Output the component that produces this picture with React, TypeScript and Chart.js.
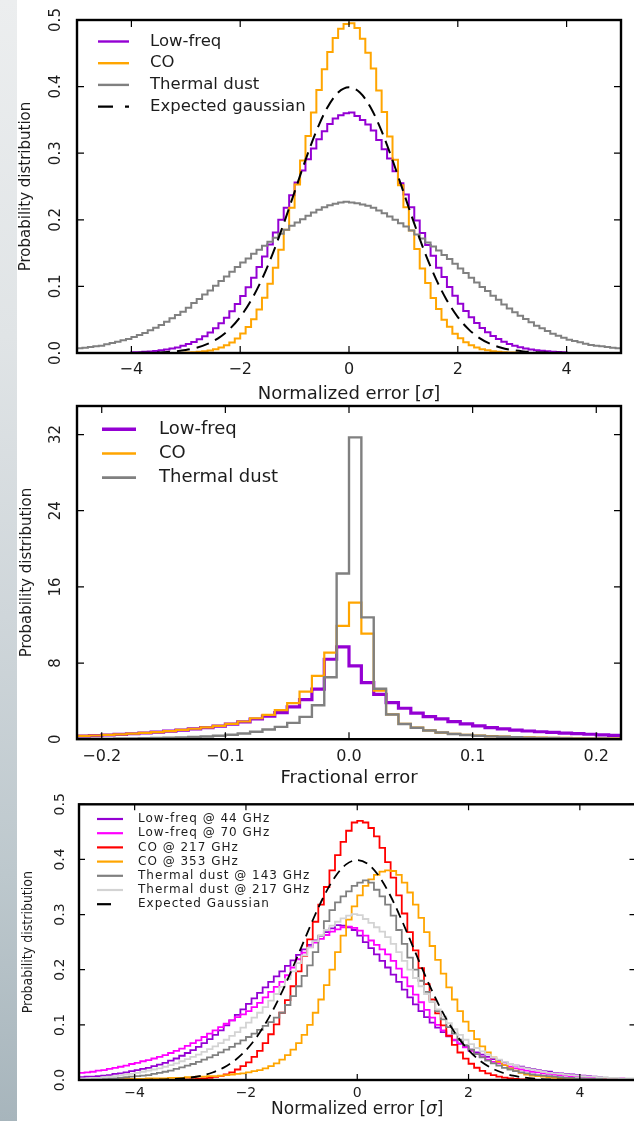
import React, { useEffect, useRef } from 'react';
import { Chart, registerables } from 'chart.js';

Chart.register(...registerables);

const FONT = '"DejaVu Sans", "Liberation Sans", sans-serif';
const FONT_CONDENSED = '"DejaVu Sans Condensed", "DejaVu Sans", sans-serif';
const TEXT_COLOR = '#1c1c1c';

const VIOLET = '#9400d3';
const ORANGE = '#ffa500';
const GREY = '#808080';
const RED = '#ff0000';
const MAGENTA = '#ff00ff';
const LIGHT_GREY = '#d3d3d3';

// ---------------------------------------------------------------------------
// Normalized-error histograms: 100 bins of width 0.1 from -5 to 5
const NORM_BIN_START = -5;
const NORM_BIN_WIDTH = 0.1;

const P1_LOW_FREQ = [
  0, 0, 0, 0, 0, 0, 0, 0, 0, 0,
  0.0010, 0.0013, 0.0018, 0.0023, 0.0031, 0.0040, 0.0052, 0.0066, 0.0084, 0.0107,
  0.0134, 0.0167, 0.0206, 0.0253, 0.0308, 0.0372, 0.0446, 0.0531, 0.0627, 0.0735,
  0.0855, 0.0987, 0.113, 0.129, 0.145, 0.163, 0.181, 0.200, 0.218, 0.237,
  0.256, 0.274, 0.291, 0.307, 0.321, 0.333, 0.344, 0.352, 0.357, 0.360,
  0.361, 0.356, 0.350, 0.343, 0.334, 0.320, 0.306, 0.292, 0.273, 0.255,
  0.238, 0.219, 0.199, 0.180, 0.162, 0.146, 0.128, 0.114, 0.0990, 0.0860,
  0.0740, 0.0630, 0.0535, 0.0450, 0.0375, 0.0310, 0.0255, 0.0210, 0.0170, 0.0137,
  0.0110, 0.0087, 0.0068, 0.0054, 0.0042, 0.0033, 0.0025, 0.0019, 0.0015, 0.0011,
  0, 0, 0, 0, 0, 0, 0, 0, 0, 0,
];

const P1_CO = [
  0, 0, 0, 0, 0, 0, 0, 0, 0, 0,
  0, 0, 0, 0, 0, 0, 0, 0, 0, 0.0005,
  0.0008, 0.0012, 0.0018, 0.0027, 0.0039, 0.0057, 0.0081, 0.0115, 0.0159, 0.0218,
  0.0293, 0.0389, 0.0507, 0.0654, 0.0829, 0.104, 0.128, 0.155, 0.185, 0.218,
  0.253, 0.289, 0.326, 0.361, 0.395, 0.426, 0.452, 0.473, 0.487, 0.494,
  0.495, 0.488, 0.472, 0.451, 0.427, 0.394, 0.362, 0.325, 0.290, 0.252,
  0.219, 0.184, 0.156, 0.127, 0.105, 0.0825, 0.0660, 0.0500, 0.0395, 0.0290,
  0.0220, 0.0160, 0.0117, 0.0082, 0.0058, 0.0040, 0.0028, 0.0019, 0.0013, 0.0009,
  0.0006, 0, 0, 0, 0, 0, 0, 0, 0, 0,
  0, 0, 0, 0, 0, 0, 0, 0, 0, 0,
];

const P1_DUST = [
  0.007, 0.008, 0.009, 0.010, 0.011, 0.013, 0.015, 0.017, 0.019, 0.021,
  0.024, 0.027, 0.030, 0.034, 0.038, 0.042, 0.047, 0.052, 0.057, 0.062,
  0.068, 0.075, 0.081, 0.088, 0.094, 0.101, 0.108, 0.115, 0.122, 0.129,
  0.136, 0.142, 0.149, 0.155, 0.161, 0.167, 0.173, 0.179, 0.185, 0.191,
  0.196, 0.201, 0.206, 0.211, 0.215, 0.219, 0.222, 0.224, 0.226, 0.227,
  0.226, 0.225, 0.223, 0.221, 0.218, 0.214, 0.210, 0.205, 0.200, 0.195,
  0.190, 0.184, 0.178, 0.172, 0.166, 0.160, 0.154, 0.147, 0.141, 0.134,
  0.127, 0.120, 0.113, 0.106, 0.099, 0.093, 0.086, 0.080, 0.073, 0.067,
  0.061, 0.056, 0.051, 0.046, 0.041, 0.037, 0.033, 0.029, 0.026, 0.023,
  0.020, 0.018, 0.016, 0.014, 0.012, 0.011, 0.010, 0.009, 0.008, 0.007,
];

// Expected unit gaussian, sampled every 0.2 from -5 to 5
const GAUSS_X_START = -5;
const GAUSS_X_STEP = 0.2;
const EXPECTED_GAUSSIAN = [
  0.0000, 0.0000, 0.0000, 0.0000, 0.0001, 0.0001, 0.0003, 0.0006, 0.0012, 0.0024,
  0.0044, 0.0079, 0.0136, 0.0224, 0.0355, 0.0540, 0.0790, 0.1109, 0.1497, 0.1942,
  0.2420, 0.2897, 0.3332, 0.3683, 0.3910, 0.3989, 0.3910, 0.3683, 0.3332, 0.2897,
  0.2420, 0.1942, 0.1497, 0.1109, 0.0790, 0.0540, 0.0355, 0.0224, 0.0136, 0.0079,
  0.0044, 0.0024, 0.0012, 0.0006, 0.0003, 0.0001, 0.0001, 0.0000, 0.0000, 0.0000,
  0.0000,
];

// ---------------------------------------------------------------------------
// Fractional-error histograms: 44 bins of width 0.01 from -0.22 to 0.22
const FRAC_BIN_START = -0.22;
const FRAC_BIN_WIDTH = 0.01;

const P2_LOW_FREQ = [
  0.33, 0.38, 0.44, 0.50, 0.57, 0.65, 0.74, 0.84, 0.95, 1.08,
  1.22, 1.38, 1.58, 1.82, 2.12, 2.42, 2.80, 3.40, 4.15, 5.25,
  8.4, 9.7,
  7.7, 5.95, 4.7, 3.85, 3.25, 2.73, 2.38, 2.13, 1.85, 1.61,
  1.40, 1.22, 1.08, 0.96, 0.86, 0.78, 0.71, 0.64, 0.58, 0.52,
  0.46, 0.41,
];

const P2_CO = [
  0.34, 0.39, 0.45, 0.51, 0.58, 0.66, 0.75, 0.85, 0.97, 1.10,
  1.25, 1.40, 1.60, 1.86, 2.20, 2.55, 3.05, 3.78, 5.0, 6.65,
  9.1, 11.9,
  14.35, 11.1, 5.1, 2.6, 1.6, 1.22, 0.92, 0.70, 0.56, 0.46,
  0.38, 0.32, 0.27, 0.23, 0.20, 0.17, 0.15, 0.13, 0.11, 0.10,
  0.09, 0.08,
];

const P2_DUST = [
  0.04, 0.05, 0.06, 0.07, 0.08, 0.10, 0.12, 0.15, 0.18, 0.23,
  0.29, 0.36, 0.46, 0.60, 0.78, 1.02, 1.29, 1.71, 2.34, 3.57,
  6.5, 17.4,
  31.7, 12.8, 5.3, 2.6, 1.6, 1.2, 0.92, 0.70, 0.55, 0.44,
  0.36, 0.30, 0.25, 0.21, 0.17, 0.14, 0.12, 0.10, 0.09, 0.08,
  0.07, 0.06,
];

// ---------------------------------------------------------------------------
// Per-frequency normalized-error histograms (same 0.1 bins from -5 to 5)
const P3_LF44 = [
  0.005, 0.006, 0.006, 0.007, 0.008, 0.009, 0.011, 0.012, 0.014, 0.016,
  0.018, 0.020, 0.022, 0.025, 0.028, 0.031, 0.035, 0.039, 0.044, 0.049,
  0.054, 0.060, 0.067, 0.074, 0.082, 0.090, 0.099, 0.108, 0.118, 0.128,
  0.138, 0.148, 0.158, 0.168, 0.178, 0.188, 0.197, 0.207, 0.217, 0.227,
  0.237, 0.245, 0.253, 0.261, 0.268, 0.275, 0.281, 0.280, 0.277, 0.272,
  0.262, 0.250, 0.239, 0.228, 0.216, 0.204, 0.191, 0.178, 0.164, 0.150,
  0.137, 0.125, 0.114, 0.104, 0.095, 0.087, 0.079, 0.072, 0.066, 0.060,
  0.055, 0.050, 0.046, 0.042, 0.038, 0.035, 0.032, 0.029, 0.026, 0.024,
  0.022, 0.020, 0.018, 0.016, 0.015, 0.013, 0.012, 0.011, 0.010, 0.009,
  0.008, 0.007, 0.006, 0.005, 0.004, 0.003, 0.003, 0.002, 0.002, 0.002,
];

const P3_LF70 = [
  0.013, 0.014, 0.015, 0.017, 0.018, 0.020, 0.022, 0.024, 0.026, 0.029,
  0.031, 0.034, 0.036, 0.039, 0.042, 0.045, 0.049, 0.053, 0.057, 0.062,
  0.067, 0.072, 0.078, 0.084, 0.090, 0.096, 0.102, 0.108, 0.114, 0.119,
  0.125, 0.132, 0.140, 0.150, 0.160, 0.169, 0.178, 0.190, 0.204, 0.219,
  0.231, 0.241, 0.249, 0.256, 0.263, 0.269, 0.273, 0.277, 0.278, 0.276,
  0.271, 0.262, 0.253, 0.245, 0.237, 0.228, 0.216, 0.202, 0.186, 0.170,
  0.155, 0.141, 0.127, 0.113, 0.100, 0.090, 0.081, 0.073, 0.066, 0.059,
  0.053, 0.047, 0.042, 0.037, 0.033, 0.030, 0.027, 0.024, 0.021, 0.019,
  0.017, 0.015, 0.014, 0.012, 0.011, 0.010, 0.009, 0.008, 0.007, 0.007,
  0.006, 0.005, 0.005, 0.004, 0.004, 0.003, 0.003, 0.003, 0.002, 0.002,
];

const P3_CO217 = [
  0, 0, 0, 0, 0, 0, 0, 0, 0, 0,
  0, 0, 0, 0, 0, 0, 0, 0, 0, 0.001,
  0.0015, 0.002, 0.003, 0.004, 0.0055, 0.0075, 0.010, 0.014, 0.019, 0.025,
  0.032, 0.042, 0.053, 0.067, 0.083, 0.101, 0.122, 0.145, 0.170, 0.197,
  0.225, 0.255, 0.287, 0.318, 0.350, 0.380, 0.408, 0.432, 0.452, 0.467,
  0.470, 0.467, 0.457, 0.442, 0.421, 0.395, 0.367, 0.335, 0.302, 0.268,
  0.235, 0.203, 0.174, 0.146, 0.121, 0.0991, 0.0800, 0.0636, 0.0499, 0.0387,
  0.0295, 0.0222, 0.0165, 0.0121, 0.0087, 0.0062, 0.0044, 0.0030, 0.0020, 0.0013,
  0.0009, 0.0006, 0, 0, 0, 0, 0, 0, 0, 0,
  0, 0, 0, 0, 0, 0, 0, 0, 0, 0,
];

const P3_CO353 = [
  0.001, 0.001, 0.001, 0.001, 0.001, 0.001, 0.001, 0.002, 0.002, 0.002,
  0.002, 0.002, 0.003, 0.003, 0.003, 0.003, 0.004, 0.004, 0.004, 0.005,
  0.005, 0.006, 0.006, 0.007, 0.007, 0.008, 0.009, 0.010, 0.011, 0.012,
  0.014, 0.016, 0.018, 0.021, 0.025, 0.030, 0.037, 0.045, 0.055, 0.067,
  0.082, 0.100, 0.122, 0.146, 0.172, 0.200, 0.232, 0.262, 0.291, 0.315,
  0.335, 0.352, 0.364, 0.372, 0.378, 0.380, 0.379, 0.372, 0.358, 0.340,
  0.318, 0.294, 0.268, 0.243, 0.218, 0.193, 0.168, 0.146, 0.125, 0.106,
  0.089, 0.074, 0.061, 0.050, 0.041, 0.033, 0.027, 0.021, 0.017, 0.013,
  0.010, 0.008, 0.007, 0.006, 0.005, 0.004, 0.003, 0.003, 0.002, 0.002,
  0.002, 0.001, 0.001, 0.001, 0.001, 0.001, 0.001, 0.001, 0.001, 0.001,
];

const P3_DUST143 = [
  0.001, 0.001, 0.002, 0.002, 0.002, 0.003, 0.003, 0.004, 0.005, 0.006,
  0.007, 0.008, 0.009, 0.011, 0.013, 0.015, 0.017, 0.020, 0.023, 0.026,
  0.029, 0.033, 0.037, 0.041, 0.045, 0.050, 0.055, 0.060, 0.066, 0.072,
  0.078, 0.084, 0.091, 0.098, 0.105, 0.113, 0.122, 0.136, 0.152, 0.170,
  0.189, 0.208, 0.232, 0.262, 0.288, 0.308, 0.322, 0.333, 0.342, 0.352,
  0.358, 0.362, 0.358, 0.345, 0.333, 0.318, 0.298, 0.272, 0.247, 0.222,
  0.200, 0.180, 0.160, 0.142, 0.125, 0.110, 0.096, 0.084, 0.073, 0.063,
  0.055, 0.047, 0.041, 0.035, 0.030, 0.026, 0.022, 0.019, 0.016, 0.014,
  0.012, 0.010, 0.009, 0.008, 0.007, 0.006, 0.005, 0.004, 0.004, 0.003,
  0.003, 0.002, 0.002, 0.002, 0.001, 0.001, 0.001, 0.001, 0.001, 0.001,
];

const P3_DUST217 = [
  0.003, 0.003, 0.004, 0.004, 0.005, 0.006, 0.007, 0.008, 0.010, 0.011,
  0.013, 0.015, 0.017, 0.019, 0.021, 0.024, 0.027, 0.030, 0.034, 0.038,
  0.042, 0.046, 0.051, 0.056, 0.061, 0.067, 0.073, 0.080, 0.087, 0.095,
  0.104, 0.113, 0.122, 0.132, 0.144, 0.156, 0.169, 0.183, 0.197, 0.212,
  0.226, 0.240, 0.252, 0.262, 0.272, 0.280, 0.287, 0.293, 0.298, 0.301,
  0.299, 0.292, 0.285, 0.277, 0.269, 0.259, 0.247, 0.232, 0.216, 0.200,
  0.185, 0.170, 0.156, 0.142, 0.128, 0.115, 0.103, 0.092, 0.082, 0.073,
  0.065, 0.058, 0.052, 0.046, 0.041, 0.037, 0.033, 0.029, 0.026, 0.023,
  0.021, 0.019, 0.017, 0.015, 0.013, 0.012, 0.011, 0.010, 0.009, 0.008,
  0.007, 0.006, 0.006, 0.005, 0.005, 0.004, 0.004, 0.003, 0.003, 0.003,
];

// ---------------------------------------------------------------------------
// Axis ticks and their labels
const NORM_X_TICKS = [-4, -2, 0, 2, 4];
const NORM_X_LABELS = ['\u22124', '\u22122', '0', '2', '4'];
const PROB_Y_TICKS = [0, 0.1, 0.2, 0.3, 0.4, 0.5];
const PROB_Y_LABELS = ['0.0', '0.1', '0.2', '0.3', '0.4', '0.5'];
const FRAC_X_TICKS = [-0.2, -0.1, 0, 0.1, 0.2];
const FRAC_X_LABELS = ['\u22120.2', '\u22120.1', '0.0', '0.1', '0.2'];
const FRAC_Y_TICKS = [0, 8, 16, 24, 32];
const FRAC_Y_LABELS = ['0', '8', '16', '24', '32'];

// ---------------------------------------------------------------------------
type Pt = { x: number; y: number };

// Outline of a step histogram: each value holds from its bin's left edge to the next edge
function histogramOutline(start: number, width: number, values: number[]): Pt[] {
  const n = values.length;
  const pts: Pt[] = [{ x: start, y: 0 }];
  values.forEach((v, i) => pts.push({ x: start + i * width, y: v }));
  pts.push({ x: start + n * width, y: values[n - 1] });
  pts.push({ x: start + n * width, y: 0 });
  return pts;
}

function sampledCurve(start: number, step: number, values: number[]): Pt[] {
  return values.map((v, i) => ({ x: start + i * step, y: v }));
}

type Series = {
  label: string;
  color: string;
  width: number;
  points: Pt[];
  dash?: number[];
  legendDash?: number[];
  smooth?: boolean;
};

type TextPart = { text: string; font: string };

type PanelSpec = {
  top: number;
  width: number;
  height: number;
  area: { left: number; top: number; right: number; bottom: number };
  xMin: number;
  xMax: number;
  yMax: number;
  xTicks: number[];
  xLabels: string[];
  yTicks: number[];
  yLabels: string[];
  xTickFont: string;
  yTickFont: string;
  xLabelY: number;
  yLabelX: number;
  tickLen: number;
  xTitle: TextPart[];
  xTitleY: number;
  yTitle: string;
  yTitleFont: string;
  yTitleX: number;
  legend: {
    x0: number;
    x1: number;
    textX: number;
    y0: number;
    dy: number;
    font: string;
    spacing: number;
  };
  series: Series[];
};

const normTitle = (size: number): TextPart[] => [
  { text: 'Normalized error [', font: `${size}px ${FONT}` },
  { text: '\u03c3', font: `italic ${size}px ${FONT}` },
  { text: ']', font: `${size}px ${FONT}` },
];

const PANEL_TOP: PanelSpec = {
  top: 0,
  width: 634,
  height: 405,
  area: { left: 77, top: 20, right: 621, bottom: 353 },
  xMin: -5,
  xMax: 5,
  yMax: 0.5,
  xTicks: NORM_X_TICKS,
  xLabels: NORM_X_LABELS,
  yTicks: PROB_Y_TICKS,
  yLabels: PROB_Y_LABELS,
  xTickFont: `16px ${FONT}`,
  yTickFont: `15px ${FONT}`,
  xLabelY: 370,
  yLabelX: 56,
  tickLen: 7,
  xTitle: normTitle(18),
  xTitleY: 394,
  yTitle: 'Probability distribution',
  yTitleFont: `15px ${FONT}`,
  yTitleX: 26,
  legend: { x0: 98, x1: 129, textX: 150, y0: 41.5, dy: 21.7, font: `16.5px ${FONT}`, spacing: 0 },
  series: [
    { label: 'Low-freq', color: VIOLET, width: 2, points: histogramOutline(NORM_BIN_START, NORM_BIN_WIDTH, P1_LOW_FREQ) },
    { label: 'CO', color: ORANGE, width: 2, points: histogramOutline(NORM_BIN_START, NORM_BIN_WIDTH, P1_CO) },
    { label: 'Thermal dust', color: GREY, width: 2, points: histogramOutline(NORM_BIN_START, NORM_BIN_WIDTH, P1_DUST) },
    {
      label: 'Expected gaussian',
      color: '#000000',
      width: 2,
      points: sampledCurve(GAUSS_X_START, GAUSS_X_STEP, EXPECTED_GAUSSIAN),
      dash: [13, 7],
      legendDash: [15, 12],
      smooth: true,
    },
  ],
};

const PANEL_MIDDLE: PanelSpec = {
  top: 400,
  width: 634,
  height: 390,
  area: { left: 77, top: 6, right: 621, bottom: 339.2 },
  xMin: -0.22,
  xMax: 0.22,
  yMax: 35,
  xTicks: FRAC_X_TICKS,
  xLabels: FRAC_X_LABELS,
  yTicks: FRAC_Y_TICKS,
  yLabels: FRAC_Y_LABELS,
  xTickFont: `16px ${FONT}`,
  yTickFont: `15px ${FONT}`,
  xLabelY: 357,
  yLabelX: 56,
  tickLen: 7,
  xTitle: [{ text: 'Fractional error', font: `18px ${FONT}` }],
  xTitleY: 378,
  yTitle: 'Probability distribution',
  yTitleFont: `15px ${FONT}`,
  yTitleX: 27,
  legend: { x0: 102, x1: 136, textX: 159, y0: 29.3, dy: 24.2, font: `18px ${FONT}`, spacing: 0 },
  series: [
    { label: 'Low-freq', color: VIOLET, width: 3.2, points: histogramOutline(FRAC_BIN_START, FRAC_BIN_WIDTH, P2_LOW_FREQ) },
    { label: 'CO', color: ORANGE, width: 2.2, points: histogramOutline(FRAC_BIN_START, FRAC_BIN_WIDTH, P2_CO) },
    { label: 'Thermal dust', color: GREY, width: 2.4, points: histogramOutline(FRAC_BIN_START, FRAC_BIN_WIDTH, P2_DUST) },
  ],
};

const PANEL_BOTTOM: PanelSpec = {
  top: 785,
  width: 700,
  height: 336,
  area: { left: 79, top: 19.3, right: 635.5, bottom: 295 },
  xMin: -5,
  xMax: 5,
  yMax: 0.5,
  xTicks: NORM_X_TICKS,
  xLabels: NORM_X_LABELS,
  yTicks: PROB_Y_TICKS,
  yLabels: PROB_Y_LABELS,
  xTickFont: `14px ${FONT}`,
  yTickFont: `14px ${FONT}`,
  xLabelY: 308,
  yLabelX: 60,
  tickLen: 6,
  xTitle: normTitle(17),
  xTitleY: 325,
  yTitle: 'Probability distribution',
  yTitleFont: `14px ${FONT_CONDENSED}`,
  yTitleX: 28,
  legend: { x0: 97, x1: 123, textX: 138, y0: 34, dy: 14.2, font: `12px ${FONT}`, spacing: 1 },
  series: [
    { label: 'Low-freq @ 44 GHz', color: VIOLET, width: 1.8, points: histogramOutline(NORM_BIN_START, NORM_BIN_WIDTH, P3_LF44) },
    { label: 'Low-freq @ 70 GHz', color: MAGENTA, width: 1.8, points: histogramOutline(NORM_BIN_START, NORM_BIN_WIDTH, P3_LF70) },
    { label: 'CO @ 217 GHz', color: RED, width: 1.8, points: histogramOutline(NORM_BIN_START, NORM_BIN_WIDTH, P3_CO217) },
    { label: 'CO @ 353 GHz', color: ORANGE, width: 1.8, points: histogramOutline(NORM_BIN_START, NORM_BIN_WIDTH, P3_CO353) },
    { label: 'Thermal dust @ 143 GHz', color: GREY, width: 1.8, points: histogramOutline(NORM_BIN_START, NORM_BIN_WIDTH, P3_DUST143) },
    { label: 'Thermal dust @ 217 GHz', color: LIGHT_GREY, width: 1.8, points: histogramOutline(NORM_BIN_START, NORM_BIN_WIDTH, P3_DUST217) },
    {
      label: 'Expected Gaussian',
      color: '#000000',
      width: 1.8,
      points: sampledCurve(GAUSS_X_START, GAUSS_X_STEP, EXPECTED_GAUSSIAN),
      dash: [10, 6],
      legendDash: [14, 20],
      smooth: true,
    },
  ],
};

function drawParts(ctx: CanvasRenderingContext2D, parts: TextPart[], cx: number, y: number) {
  let total = 0;
  const widths = parts.map((p) => {
    ctx.font = p.font;
    const w = ctx.measureText(p.text).width;
    total += w;
    return w;
  });
  let x = cx - total / 2;
  ctx.textAlign = 'left';
  parts.forEach((p, i) => {
    ctx.font = p.font;
    ctx.fillText(p.text, x, y);
    x += widths[i];
  });
}

function makeAxesPlugin(spec: PanelSpec) {
  return {
    id: 'paperAxes',
    afterDatasetsDraw(chart: Chart) {
      const ctx = chart.ctx;
      const { left, top, right, bottom } = chart.chartArea;
      const xs = chart.scales.x;
      const ys = chart.scales.y;
      ctx.save();

      // frame
      ctx.setLineDash([]);
      ctx.strokeStyle = '#000000';
      ctx.lineWidth = 2.4;
      ctx.strokeRect(left, top, right - left, bottom - top);

      // inward ticks on all four sides
      ctx.lineWidth = 1.2;
      ctx.beginPath();
      spec.xTicks.forEach((v) => {
        const px = xs.getPixelForValue(v);
        ctx.moveTo(px, bottom);
        ctx.lineTo(px, bottom - spec.tickLen);
        ctx.moveTo(px, top);
        ctx.lineTo(px, top + spec.tickLen);
      });
      spec.yTicks.forEach((v) => {
        const py = ys.getPixelForValue(v);
        ctx.moveTo(left, py);
        ctx.lineTo(left + spec.tickLen, py);
        ctx.moveTo(right, py);
        ctx.lineTo(right - spec.tickLen, py);
      });
      ctx.stroke();

      // tick labels
      ctx.fillStyle = TEXT_COLOR;
      ctx.textBaseline = 'middle';
      ctx.textAlign = 'center';
      ctx.font = spec.xTickFont;
      spec.xTicks.forEach((v, i) => {
        ctx.fillText(spec.xLabels[i], xs.getPixelForValue(v), spec.xLabelY);
      });
      ctx.font = spec.yTickFont;
      spec.yTicks.forEach((v, i) => {
        ctx.save();
        ctx.translate(spec.yLabelX, ys.getPixelForValue(v));
        ctx.rotate(-Math.PI / 2);
        ctx.fillText(spec.yLabels[i], 0, 0);
        ctx.restore();
      });

      // axis titles
      drawParts(ctx, spec.xTitle, (left + right) / 2, spec.xTitleY);
      ctx.save();
      ctx.textAlign = 'center';
      ctx.font = spec.yTitleFont;
      ctx.translate(spec.yTitleX, (top + bottom) / 2);
      ctx.rotate(-Math.PI / 2);
      ctx.fillText(spec.yTitle, 0, 0);
      ctx.restore();

      // legend
      const lg = spec.legend;
      spec.series.forEach((s, i) => {
        const y = lg.y0 + i * lg.dy;
        ctx.strokeStyle = s.color;
        ctx.lineWidth = s.width + 0.4;
        ctx.setLineDash(s.legendDash ?? []);
        ctx.beginPath();
        ctx.moveTo(lg.x0, y);
        ctx.lineTo(lg.x1, y);
        ctx.stroke();
        ctx.setLineDash([]);
        ctx.font = lg.font;
        ctx.textAlign = 'left';
        (ctx as any).letterSpacing = `${lg.spacing}px`;
        ctx.fillText(s.label, lg.textX, y);
        (ctx as any).letterSpacing = '0px';
      });

      ctx.restore();
    },
  };
}

function Panel({ spec }: { spec: PanelSpec }) {
  const ref = useRef<HTMLCanvasElement>(null);

  useEffect(() => {
    const canvas = ref.current;
    if (!canvas) return;
    const n = spec.series.length;
    const chart = new Chart(canvas, {
      type: 'line',
      data: {
        datasets: spec.series.map((s, i) => ({
          label: s.label,
          data: s.points,
          borderColor: s.color,
          backgroundColor: s.color,
          borderWidth: s.width,
          borderDash: s.dash ?? [],
          // 'before': horizontal run at the previous value, then the vertical edge
          stepped: s.smooth ? false : 'before',
          cubicInterpolationMode: s.smooth ? 'monotone' : 'default',
          tension: 0,
          pointRadius: 0,
          pointHoverRadius: 0,
          fill: false,
          borderJoinStyle: 'miter',
          borderCapStyle: 'butt',
          order: n - i,
        })) as any,
      },
      options: {
        animation: false,
        responsive: false,
        maintainAspectRatio: false,
        devicePixelRatio: 1,
        events: [],
        layout: {
          padding: {
            left: spec.area.left,
            top: spec.area.top,
            right: spec.width - spec.area.right,
            bottom: spec.height - spec.area.bottom,
          },
        },
        scales: {
          x: { type: 'linear', min: spec.xMin, max: spec.xMax, display: false },
          y: { type: 'linear', min: 0, max: spec.yMax, display: false },
        },
        plugins: {
          legend: { display: false },
          tooltip: { enabled: false },
        },
      },
      plugins: [makeAxesPlugin(spec) as any],
    });
    return () => chart.destroy();
  }, [spec]);

  return (
    <canvas
      ref={ref}
      width={spec.width}
      height={spec.height}
      style={{
        position: 'absolute',
        left: 0,
        top: spec.top,
        width: spec.width,
        height: spec.height,
      }}
    />
  );
}

export default function App() {
  return (
    <div
      style={{
        position: 'absolute',
        left: 0,
        top: 0,
        width: 634,
        height: 1121,
        overflow: 'hidden',
        background: '#ffffff',
      }}
    >
      <div
        style={{
          position: 'absolute',
          left: 0,
          top: 0,
          width: 17,
          height: 1121,
          background:
            'linear-gradient(to bottom, #eceeef 0%, #e0e4e6 30%, #cfd6da 55%, #bdc8cd 78%, #a7b5bc 100%)',
        }}
      />
      <Panel spec={PANEL_TOP} />
      <Panel spec={PANEL_MIDDLE} />
      <Panel spec={PANEL_BOTTOM} />
    </div>
  );
}
